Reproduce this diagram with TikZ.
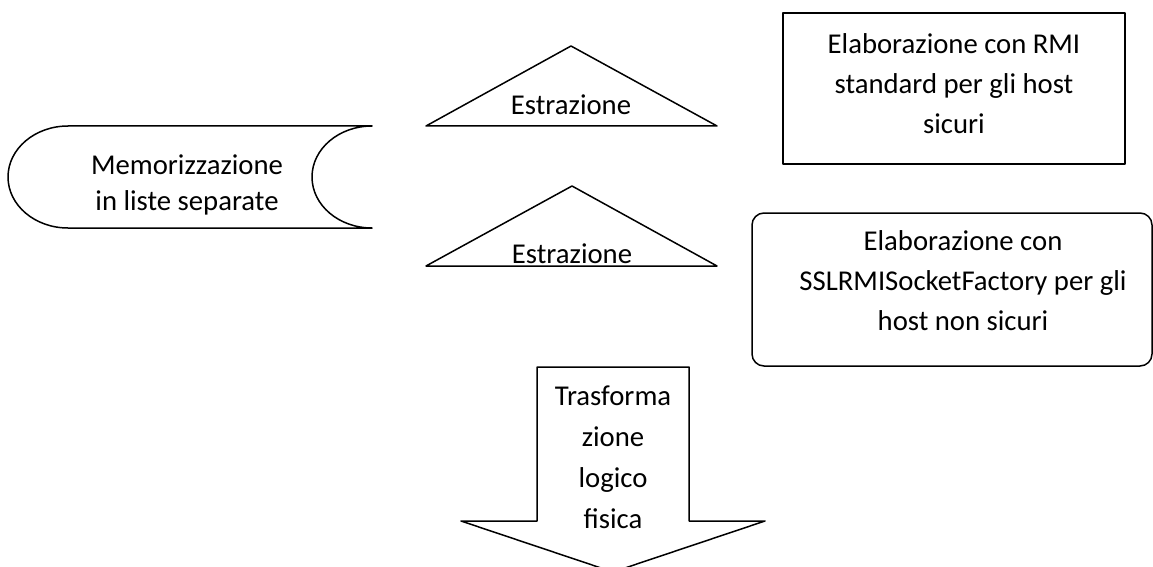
\documentclass[tikz,border=0pt]{standalone}
\usepackage{fontspec}
\setmainfont{Carlito}
\usepackage{tikz}
\tikzset{
  shp/.style={line width=1.5pt},
  lbl/.style={align=center,anchor=base,inner sep=0pt,font=\fontsize{28.7}{40}\selectfont}
}
\begin{document}
\begin{tikzpicture}[line cap=round,line join=round,x=1pt,y=-1pt]
\useasboundingbox (0,0) rectangle (1153,567);
% memorizzazione
\draw [shp] (68,126) -- (372,126) arc[start angle=-90,end angle=-270,x radius=60,y radius=51] -- (68,228) arc[start angle=90,end angle=270,x radius=60,y radius=51] -- cycle;
\node [lbl,font=\fontsize{28.7}{36}\selectfont] (mem) at (187,210) {Memorizzazione\\in liste separate};
% estrazioni
\draw [shp] (426,126) -- (571,46) -- (717,126) -- cycle;
\node [lbl] (estr1) at (571,115) {Estrazione};
\draw [shp] (426,266) -- (572,186) -- (717,266) -- cycle;
\node [lbl] (estr2) at (572,263) {Estrazione};
% elaborazioni
\draw [shp] (783,13) rectangle (1125,164);
\node [lbl] (rmi) at (954,134) {Elaborazione con RMI\\standard per gli host\\sicuri};
\draw [shp,rounded corners=12pt] (752,213) rectangle (1152,366);
\node [lbl] (ssl) at (963,330) {Elaborazione con\\SSLRMISocketFactory per gli\\host non sicuri};
% trasformazione
\draw [shp] (537,367) -- (689,367) -- (689,521) -- (765,521) -- (613,572) -- (461,521) -- (537,521) -- cycle;
\node [lbl,font=\fontsize{28.7}{41}\selectfont] (trasf) at (613,528) {Trasforma\\zione\\logico\\fisica};
\end{tikzpicture}
\end{document}
